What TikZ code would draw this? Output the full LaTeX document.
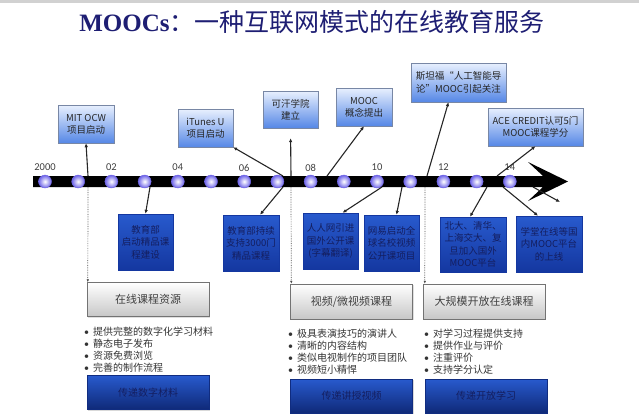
\documentclass[tikz,border=0pt]{standalone}
\usepackage{fontspec}
\setmainfont{Carlito}
\newfontfamily\cjk{Noto Sans CJK SC}
\newfontfamily\titlefont{Liberation Serif}
\usetikzlibrary{shadows,arrows.meta}

\definecolor{titleblue}{RGB}{30,30,115}
\definecolor{lightbox}{RGB}{232,240,254}
\definecolor{midbox}{RGB}{85,135,230}
\definecolor{eventline}{RGB}{120,135,165}
\definecolor{darkbox}{RGB}{40,90,205}
\definecolor{deepbox}{RGB}{20,55,160}
\definecolor{boxtext}{RGB}{20,30,95}
\definecolor{dotblue}{RGB}{110,100,232}

\newcommand\bulletmark{\makebox[9pt][l]{\rmfamily •}}

\tikzset{
    titlenode/.style={
        text=titleblue,
        inner sep=0,
        font=\fontsize{25}{28}\selectfont
    },
    eventnode/.style={
        rectangle,
        draw=eventline, % 浅蓝渐变事件框
        top color=lightbox,
        bottom color=midbox,
        minimum height=38pt,
        inner xsep=1pt,
        align=center,
        text=black!85,
        font=\cjk\fontsize{9.5}{12.3}\selectfont,
        drop shadow={opacity=0.3,shadow xshift=1.2pt,shadow yshift=-1.2pt}
    },
    factnode/.style={
        rectangle,
        draw=deepbox, % 深蓝事件框
        top color=darkbox,
        bottom color=deepbox,
        minimum height=56pt,
        inner xsep=1pt,
        align=center,
        text=boxtext,
        font=\cjk\fontsize{9.5}{12.5}\selectfont,
        drop shadow={opacity=0.25,shadow xshift=1pt,shadow yshift=-1pt}
    },
    typenode/.style={
        rectangle,
        draw=black!55,
        top color=white,
        bottom color=black!22,
        minimum width=122pt,
        minimum height=34pt,
        text=black!75,
        font=\cjk\fontsize{11}{13}\selectfont,
        drop shadow={opacity=0.25,shadow xshift=1pt,shadow yshift=-1pt}
    },
    goalnode/.style={
        rectangle,
        draw=deepbox!80!black,
        top color=darkbox,
        bottom color=deepbox!75!black,
        minimum width=122pt,
        minimum height=34pt,
        text=boxtext,
        font=\cjk\fontsize{10}{12}\selectfont,
        drop shadow={opacity=0.3,shadow xshift=1.2pt,shadow yshift=-1.2pt}
    },
    listnode/.style={
        anchor=north west,
        align=left,
        inner sep=0,
        text=black!80,
        font=\cjk\fontsize{10}{12}\selectfont
    },
    dotnode/.style={
        circle,
        draw=dotblue,
        inner color=white,
        outer color=dotblue,
        minimum size=13pt,
        inner sep=0
    },
    yearnode/.style={
        inner sep=0,
        text=black!75,
        font=\fontsize{10.5}{12}\selectfont
    },
    arr/.style={-{Latex[length=4pt,width=3.5pt]}, line width=1.1pt, draw=black!85},
    dotarr/.style={densely dotted, -{Latex[length=3pt,width=2.5pt]}, line width=0.7pt, draw=black!70}
}

\begin{document}
\begin{tikzpicture}[x=1pt,y=-1pt]
    \useasboundingbox (0,0) rectangle (639,416);
    % 顶部灰线
    \fill[black!18] (0,0) rectangle (639,3);

    % 标题
    \node[titlenode] (title) at (312,22) {{\titlefont\bfseries MOOCs}\cjk：一种互联网模式的在线教育服务};

    % 时间轴
    \fill[black] (33,176) -- (543,176) -- (528,162) -- (568,181.5) -- (528,201) -- (543,187) -- (33,187) -- cycle;
    \foreach \i in {0,...,14}
        \node[dotnode] (d\i) at ({45+33.2*\i},181.5) {};
    \foreach \i/\t in {0/2000,2/02,4/04,6/06,8/08,10/10,12/12,14/14}
        \node[yearnode] (y\i) at ({45+33.2*\i},167.5) {\t};

    % 轴上方事件
    \node[eventnode, minimum width=56pt] (mit) at (86,124) {MIT OCW\\项目启动};
    \node[eventnode, minimum width=55pt] (itunes) at (205.5,128) {iTunes U\\项目启动};
    \node[eventnode, minimum width=55pt, minimum height=37pt] (khan) at (290.5,109.5) {可汗学院\\建立};
    \node[eventnode, minimum width=56pt] (concept) at (364,107) {MOOC\\概念提出};
    \node[eventnode, minimum width=95pt, minimum height=39pt] (stanford) at (458.5,82.5) {斯坦福“人工智能导\\论”MOOC引起关注};
    \node[eventnode, minimum width=95pt] (ace) at (535.5,127) {ACE CREDIT认可5门\\MOOC课程学分};

    % 轴下方事件
    \node[factnode, minimum width=55pt] (jyb) at (145.5,242) {教育部\\启动精品课\\程建设};
    \node[factnode, minimum width=56pt] (jybcx) at (251,243) {教育部持续\\支持3000门\\精品课程};
    \node[factnode, minimum width=55pt] (renren) at (330.5,241) {人人网引进\\国外公开课\\(字幕翻译)};
    \node[factnode, minimum width=55pt] (wangyi) at (391.5,243) {网易启动全\\球名校视频\\公开课项目};
    \node[factnode, minimum width=66pt, minimum height=55pt] (beida) at (473,244.5) {北大、清华、\\上海交大、复\\旦加入国外\\MOOC平台};
    \node[factnode, minimum width=66pt] (xuetang) at (549,244) {学堂在线等国\\内MOOC平台\\的上线};

    % 连线端点
    \coordinate (tmit) at (88,176);
    \coordinate (titunes) at (283,176);
    \coordinate (tkhan) at (291,176);
    \coordinate (tconcept) at (327,176);
    \coordinate (tstanford) at (427,176);
    \coordinate (tace) at (497,176);
    \coordinate (bmit) at (88,187);
    \coordinate (bkhan) at (291,187);
    \coordinate (bstanford) at (425,187);
    \coordinate (bjyb) at (150,187);
    \coordinate (bjybcx) at (283,187);
    \coordinate (brenren) at (382,187);
    \coordinate (bwangyi) at (402,187);
    \coordinate (bbeida) at (487,187);
    \coordinate (bxuetang) at (503,187);
    \coordinate (bextra) at (533,187);
    \coordinate (xextra) at (560,202);

    \draw[arr] (tmit) -- (mit.south);
    \draw[arr] (titunes) -- (itunes.south east);
    \draw[arr, shorten >=10pt] (tkhan) -- (khan.south);
    \draw[arr] (tconcept) -- (concept.south);
    \draw[arr] (tstanford) -- ([xshift=-10pt]stanford.south);
    \draw[arr] (tace) -- (ace.south);

    \draw[arr] (bjyb) -- (jyb.north);
    \draw[arr] (bjybcx) -- ([xshift=9pt]jybcx.north);
    \draw[arr] (brenren) -- ([xshift=12pt]renren.north);
    \draw[arr] (bwangyi) -- ([xshift=5pt]wangyi.north);
    \draw[arr] (bbeida) -- ([xshift=-3pt]beida.north);
    \draw[arr] (bxuetang) -- ([xshift=-11pt]xuetang.north);
    \draw[arr] (bextra) -- (xextra);

    % 三类课程
    \node[typenode] (res) at (148,299.5) {在线课程资源};
    \node[typenode, minimum height=35pt] (video) at (351.5,301.5) {视频/微视频课程};
    \node[typenode, minimum height=35pt] (mooc) at (484,301.5) {大规模开放在线课程};

    \draw[dotarr] (bmit) -- ([xshift=1pt]res.north west);
    \draw[dotarr] (bkhan) -- ([xshift=1pt]video.north west);
    \draw[dotarr] (bstanford) -- ([xshift=2pt]mooc.north west);

    % 特点列表
    \node[listnode] (list1) at (84,326.5) {\bulletmark 提供完整的数字化学习材料\\\bulletmark 静态电子发布\\\bulletmark 资源免费浏览\\\bulletmark 完善的制作流程};
    \node[listnode] (list2) at (288,328.5) {\bulletmark 极具表演技巧的演讲人\\\bulletmark 清晰的内容结构\\\bulletmark 类似电视制作的项目团队\\\bulletmark 视频短小精悍};
    \node[listnode] (list3) at (424,328.5) {\bulletmark 对学习过程提供支持\\\bulletmark 提供作业与评价\\\bulletmark 注重评价\\\bulletmark 支持学分认定};

    % 目标
    \node[goalnode] (goal1) at (148,392.5) {传递数字材料};
    \node[goalnode] (goal2) at (351.5,396) {传递讲授视频};
    \node[goalnode] (goal3) at (486,396) {传递开放学习};
\end{tikzpicture}
\end{document}
